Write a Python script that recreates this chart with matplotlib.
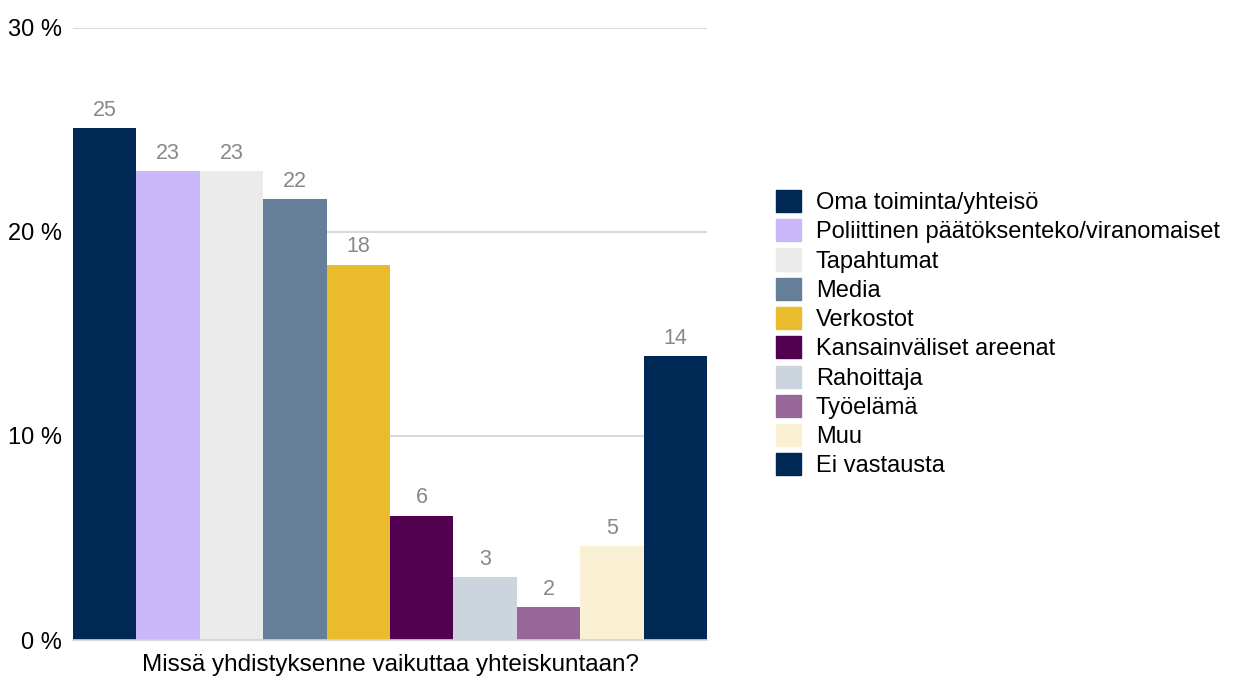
import matplotlib.pyplot as plt
import numpy as np

plt.rcParams['font.family'] = ['Liberation Sans', 'DejaVu Sans']

# data
categories = ['Oma toiminta/yhteisö', 'Poliittinen päätöksenteko/viranomaiset',
              'Tapahtumat', 'Media', 'Verkostot', 'Kansainväliset areenat',
              'Rahoittaja', 'Työelämä', 'Muu', 'Ei vastausta']
values = [25.1, 23.0, 23.0, 21.6, 18.4, 6.1, 3.1, 1.6, 4.6, 13.9]
value_labels = ['25', '23', '23', '22', '18', '6', '3', '2', '5', '14']
colors = ['#002855', '#CBB8FB', '#EBEBEB', '#667F99', '#EABC2D',
          '#520050', '#CCD4DE', '#976797', '#FAF0D4', '#002855']
yticks = [0, 10, 20, 30]
ytick_labels = ['0 %', '10 %', '20 %', '30 %']
xlabel = 'Missä yhdistyksenne vaikuttaa yhteiskuntaan?'

fig = plt.figure(figsize=(12.44, 6.81), dpi=100)
ax = fig.add_axes([0.0587, 0.0602, 0.5096, 0.8987])

x = np.arange(len(values))
ax.bar(x, values, width=1.0, color=colors, zorder=2)
for xi, v, lab in zip(x, values, value_labels):
    ax.text(xi, v + 0.35, lab, ha='center', va='bottom', fontsize=15.5, color='#888888')

ax.set_xlim(-0.5, len(values) - 0.5)
ax.set_ylim(0, 30)
ax.set_yticks(yticks)
ax.set_yticklabels(ytick_labels, fontsize=17)
ax.set_xticks([])
ax.yaxis.grid(True, color='#CCD4DE', linewidth=1.2, zorder=0)
ax.tick_params(axis='y', length=0, pad=8)
for s in ['top', 'right', 'left']:
    ax.spines[s].set_visible(False)
ax.spines['bottom'].set_color('#CCD4DE')
ax.spines['bottom'].set_linewidth(1.2)
ax.set_xlabel(xlabel, fontsize=17.5, labelpad=10)

handles = [plt.Rectangle((0, 0), 1, 1, color=c) for c in colors]
fig.legend(handles, categories, loc='center left', bbox_to_anchor=(0.616, 0.51),
           frameon=False, fontsize=17, handlelength=1.06, handleheight=1.06,
           handletextpad=0.64, labelspacing=0.22, borderaxespad=0)

fig.savefig('out.png', dpi=100)
